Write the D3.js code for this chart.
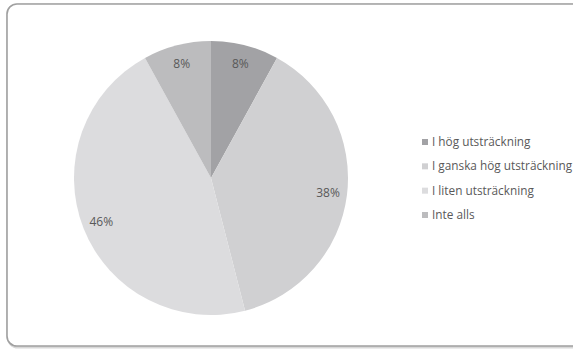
<!DOCTYPE html>
<html><head><meta charset="utf-8">
<script src="https://cdn.jsdelivr.net/npm/d3@7"></script>
<style>html,body{margin:0;padding:0;background:#fff;}svg{display:block;}</style>
</head><body>
<svg id="c" width="573" height="349"></svg>
<script>
const categories = ["I hög utsträckning", "I ganska hög utsträckning", "I liten utsträckning", "Inte alls"];
const values = [8, 38, 46, 8];
const labels = ["8%", "38%", "46%", "8%"];
const colors = ["#a2a2a5", "#d0d0d2", "#dcdcde", "#bcbcbe"];

const svg = d3.select("#c");
const font = "'Open Sans', sans-serif";

// frame
svg.append("rect").attr("x", 8).attr("y", 5).attr("width", 620).attr("height", 342)
  .attr("rx", 10).attr("fill", "none").attr("stroke", "#d8d8d8").attr("stroke-width", 3);
svg.append("rect").attr("x", 7).attr("y", 4).attr("width", 620).attr("height", 342)
  .attr("rx", 10).attr("fill", "#fff").attr("stroke", "#a0a0a0").attr("stroke-width", 1.6);

const cx = 211, cy = 178, R = 137;
const pie = d3.pie().sort(null).value(d => d)(values);
const arc = d3.arc().innerRadius(0).outerRadius(R);
const labelArc = d3.arc().innerRadius(118).outerRadius(118);
const g = svg.append("g").attr("transform", `translate(${cx},${cy})`);
g.selectAll("path").data(pie).join("path")
  .attr("d", arc).attr("fill", (d, i) => colors[i]);
g.selectAll("text").data(pie).join("text")
  .attr("transform", d => `translate(${labelArc.centroid(d)})`)
  .attr("text-anchor", "middle").attr("dy", "0.35em")
  .attr("font-family", font).attr("font-size", 12).attr("fill", "#595959")
  .text((d, i) => labels[i]);

// legend
const ly = d3.scalePoint().domain(categories).range([142, 215]);
const lg = svg.append("g");
categories.forEach((c, i) => {
  lg.append("rect").attr("x", 422).attr("y", ly(c) - 3).attr("width", 6).attr("height", 6).attr("fill", colors[i]);
  lg.append("text").attr("x", 432).attr("y", ly(c)).attr("dy", "0.35em")
    .attr("font-family", font).attr("font-size", 11.8).attr("fill", "#595959").text(c);
});
</script>
</body></html>
